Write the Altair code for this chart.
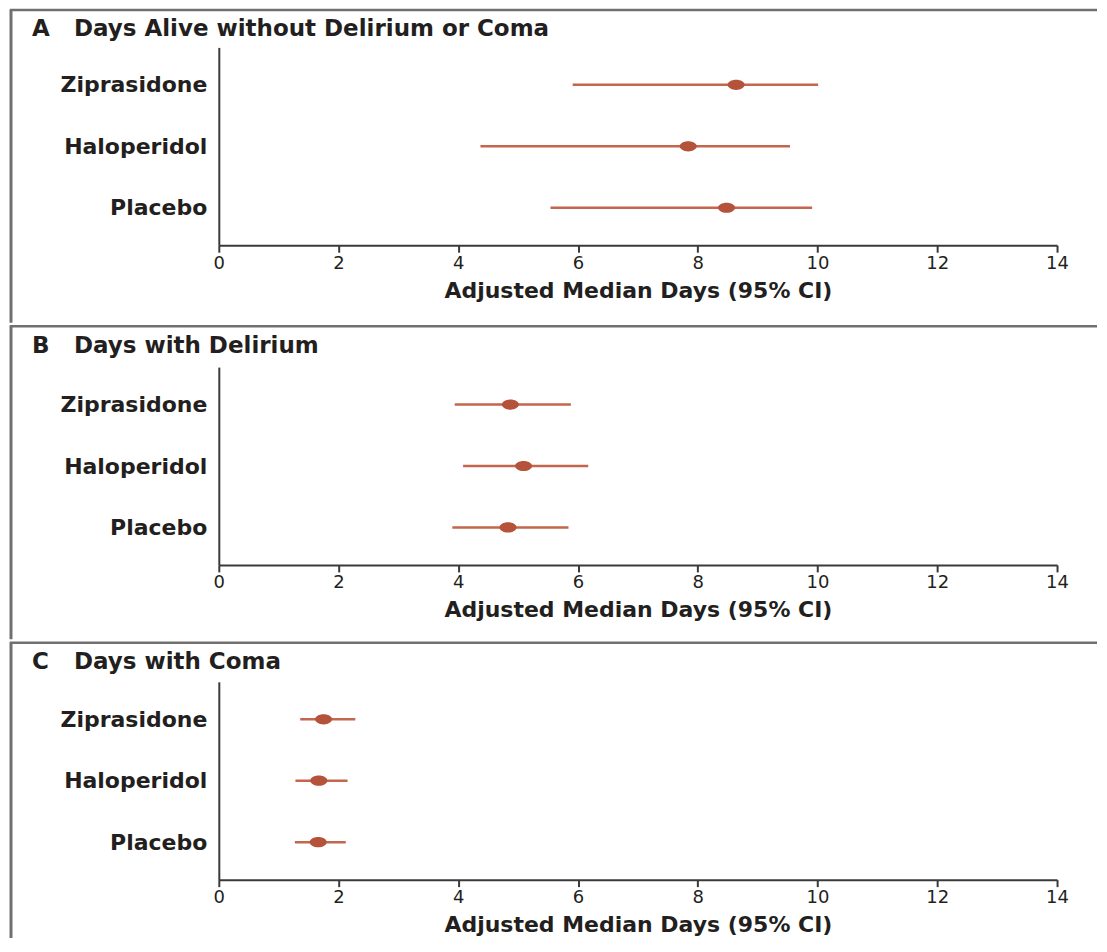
import altair as alt
import pandas as pd

# ---------------- data ----------------
panel_letters = ["A", "B", "C"]
panel_titles = ["Days Alive without Delirium or Coma", "Days with Delirium", "Days with Coma"]
groups = ["Ziprasidone", "Haloperidol", "Placebo"]

a_median = [8.64, 7.84, 8.48]
a_low = [5.91, 4.37, 5.54]
a_high = [10.01, 9.54, 9.91]

b_median = [4.87, 5.09, 4.83]
b_low = [3.94, 4.08, 3.90]
b_high = [5.88, 6.17, 5.84]

c_median = [1.75, 1.67, 1.66]
c_low = [1.36, 1.28, 1.27]
c_high = [2.28, 2.15, 2.12]

x_ticks = [0, 2, 4, 6, 8, 10, 12, 14]
x_title = "Adjusted Median Days (95% CI)"

# ---------------- style ----------------
POINT = "#B4523A"
LINE = "#C4654D"
FRAME = "#707070"
TEXT = "#231F20"
AXIS = "#3a3a3a"
FONT = "DejaVu Sans"

W, H = 839, 198
ELLIPSE = "M -1 0 A 1 0.6 0 1 0 1 0 A 1 0.6 0 1 0 -1 0 Z"

# page-y of: divider above, plot top, title baseline, next divider
layout = [
    dict(D=8.5, T=46, tb=35, nD=324),
    dict(D=324, T=365, tb=351, nD=640),
    dict(D=640, T=679, tb=666, nD=938),
]
LEFT_X = 11 - 219   # frame left line, relative to plot origin
RIGHT_X = 879
SW = 2.5


def panel(i, med, low, high):
    L = layout[i]
    T = L["T"]
    df = pd.DataFrame({"group": groups, "median": med, "low": low, "high": high})
    one = pd.DataFrame({"k": [0]})

    y = alt.Y(
        "group:N",
        sort=groups,
        scale=alt.Scale(type="point", padding=0.61),
        axis=alt.Axis(
            title=None, ticks=False, domain=True, domainColor=AXIS, domainWidth=2,
            labelFont=FONT, labelFontSize=22, labelFontWeight="bold", labelColor=TEXT,
            labelPadding=12, grid=False,
        ),
    )
    x_scale = alt.Scale(domain=[0, 14], nice=False, zero=True)
    x_axis = alt.Axis(
        values=x_ticks, format="d", labelFlush=False, title=x_title, grid=False,
        domainColor=AXIS, domainWidth=2, tickColor=AXIS, tickWidth=2, tickSize=7,
        labelFont=FONT, labelFontSize=18, labelColor=TEXT, labelPadding=2,
        titleFont=FONT, titleFontSize=22, titleFontWeight="bold", titleColor=TEXT,
        titlePadding=8,
    )

    ci = alt.Chart(df).mark_rule(color=LINE, strokeWidth=2.5).encode(
        x=alt.X("low:Q", scale=x_scale, axis=x_axis),
        x2="high:Q",
        y=y,
    )
    pts = alt.Chart(df).mark_point(
        shape=ELLIPSE, filled=True, size=289, opacity=1, color=POINT
    ).encode(x="median:Q", y=y)

    top_line = alt.Chart(one).mark_rule(color=FRAME, strokeWidth=SW).encode(
        x=alt.value(LEFT_X - SW / 2), x2=alt.value(RIGHT_X), y=alt.value(L["D"] - T)
    )
    left_line = alt.Chart(one).mark_rule(color=FRAME, strokeWidth=SW + 0.5).encode(
        x=alt.value(LEFT_X), y=alt.value(L["D"] - T), y2=alt.value(L["nD"] - T - SW)
    )
    letter = alt.Chart(one).mark_text(
        text=panel_letters[i], font=FONT, fontSize=23, fontWeight="bold",
        color=TEXT, align="left", baseline="alphabetic",
    ).encode(x=alt.value(32 - 219), y=alt.value(L["tb"] - T))
    title = alt.Chart(one).mark_text(
        text=panel_titles[i], font=FONT, fontSize=23, fontWeight="bold",
        color=TEXT, align="left", baseline="alphabetic",
    ).encode(x=alt.value(74 - 219), y=alt.value(L["tb"] - T))

    return alt.layer(top_line, left_line, letter, title, ci, pts).properties(width=W, height=H)


chart = alt.vconcat(
    panel(0, a_median, a_low, a_high),
    panel(1, b_median, b_low, b_high),
    panel(2, c_median, c_low, c_high),
    spacing=0,
).properties(
    padding={"left": 0, "top": 0, "right": 0, "bottom": 0},
    background="white",
).configure_view(stroke=None, strokeWidth=0)

chart.save("out.html", embed_options={"renderer": "svg", "actions": False})
